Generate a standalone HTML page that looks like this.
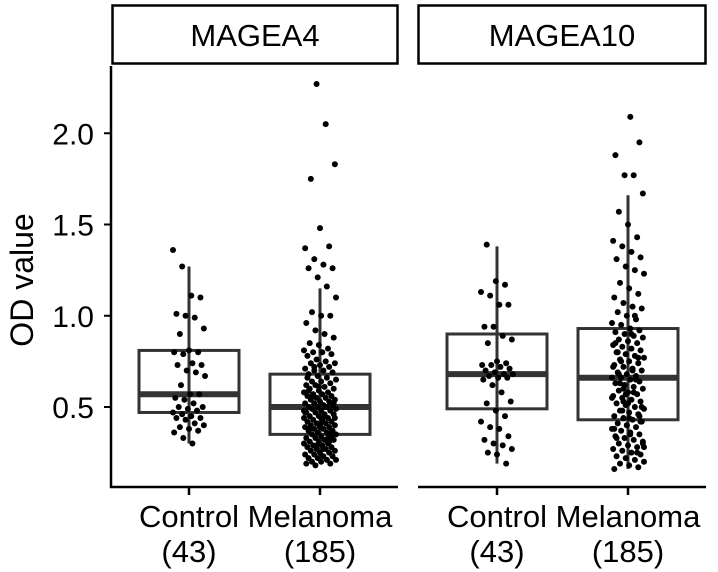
<!DOCTYPE html>
<html><head><meta charset="utf-8">
<style>
html,body{margin:0;padding:0;background:#fff;}
svg{display:block;font-family:"Liberation Sans",Arial,sans-serif;}
</style></head>
<body>
<svg id="chart" width="718" height="572" viewBox="0 0 718 572">
  <g>
    <rect x="112.5" y="5.5" width="285" height="58" fill="#fff" stroke="#000" stroke-width="2.5"/>
    <text x="255" y="46" font-size="31" text-anchor="middle">MAGEA4</text>
  </g>
  <g>
    <rect x="418.5" y="5.5" width="287" height="58" fill="#fff" stroke="#000" stroke-width="2.5"/>
    <text x="562" y="46" font-size="31" text-anchor="middle">MAGEA10</text>
  </g>
  <line x1="111" y1="66" x2="111" y2="488" stroke="#000" stroke-width="2.5"/>
  <line x1="110" y1="487" x2="398" y2="487" stroke="#000" stroke-width="2.5"/>
  <line x1="418" y1="487" x2="706" y2="487" stroke="#000" stroke-width="2.5"/>
  <text transform="translate(33,280) rotate(-90)" font-size="32" text-anchor="middle">OD value</text>
  <g id="yticks"></g>
  <g id="xticks"></g>
  <g id="boxes"></g>
  <g id="points"></g>
</svg>
<script>
const yTicks=[0.5,1.0,1.5,2.0];
const yTickLabels=["0.5","1.0","1.5","2.0"];
const panels=["MAGEA4","MAGEA10"];
const groups=["Control","Melanoma"];
const groupCounts=["(43)","(185)"];
// box stats: [whiskerLow,q1,median,q3,whiskerHigh]
const statsMAGEA4Control=[0.30,0.47,0.57,0.81,1.27];
const statsMAGEA4Melanoma=[0.19,0.35,0.50,0.68,1.15];
const statsMAGEA10Control=[0.19,0.49,0.68,0.90,1.38];
const statsMAGEA10Melanoma=[0.16,0.43,0.66,0.93,1.66];
const ptsMAGEA4Control=[1.36,1.27,1.11,1.10,1.01,1.00,0.99,0.93,0.90,0.81,0.80,0.80,0.79,0.74,0.73,0.73,0.70,0.69,0.67,0.62,0.57,0.57,0.55,0.54,0.52,0.50,0.50,0.49,0.48,0.47,0.46,0.45,0.44,0.44,0.43,0.41,0.40,0.39,0.38,0.37,0.36,0.33,0.30];
const ptsMAGEA4Melanoma=[2.27,2.05,1.83,1.75,1.48,1.38,1.37,1.31,1.28,1.26,1.26,1.21,1.16,1.10,1.02,1.00,1.00,0.96,0.92,0.90,0.88,0.85,0.84,0.82,0.81,0.80,0.80,0.79,0.78,0.76,0.75,0.74,0.74,0.73,0.72,0.71,0.70,0.70,0.69,0.68,0.67,0.66,0.65,0.64,0.64,0.63,0.62,0.62,0.61,0.60,0.60,0.59,0.58,0.58,0.57,0.57,0.56,0.56,0.55,0.55,0.54,0.54,0.53,0.53,0.52,0.52,0.51,0.51,0.50,0.50,0.50,0.49,0.49,0.48,0.48,0.47,0.47,0.46,0.46,0.45,0.45,0.44,0.44,0.43,0.43,0.42,0.42,0.41,0.41,0.40,0.40,0.40,0.39,0.39,0.38,0.38,0.37,0.37,0.36,0.36,0.35,0.35,0.34,0.34,0.33,0.33,0.32,0.32,0.31,0.31,0.30,0.30,0.29,0.29,0.28,0.28,0.27,0.27,0.26,0.26,0.25,0.25,0.24,0.24,0.23,0.23,0.22,0.22,0.21,0.21,0.20,0.20,0.19,0.19,0.18,0.45,0.52,0.38,0.61,0.33,0.48,0.57,0.42,0.36,0.66,0.29,0.50,0.44,0.55,0.39,0.31,0.47,0.72,0.27,0.35,0.59];
const ptsMAGEA10Control=[1.39,1.19,1.17,1.13,1.11,1.06,1.06,0.94,0.94,0.89,0.87,0.85,0.75,0.74,0.73,0.73,0.72,0.71,0.70,0.69,0.68,0.68,0.67,0.66,0.66,0.65,0.62,0.58,0.53,0.52,0.48,0.45,0.42,0.39,0.38,0.34,0.32,0.30,0.29,0.27,0.25,0.24,0.19];
const ptsMAGEA10Melanoma=[2.09,1.95,1.88,1.77,1.77,1.67,1.57,1.50,1.43,1.41,1.38,1.35,1.32,1.31,1.27,1.25,1.23,1.18,1.15,1.12,1.10,1.07,1.05,1.04,1.02,1.00,0.98,0.96,0.95,0.93,0.92,0.91,0.90,0.89,0.88,0.87,0.86,0.85,0.84,0.83,0.82,0.81,0.80,0.79,0.78,0.77,0.76,0.75,0.74,0.73,0.72,0.71,0.70,0.69,0.68,0.67,0.66,0.66,0.65,0.64,0.63,0.62,0.61,0.60,0.59,0.58,0.57,0.56,0.55,0.54,0.53,0.52,0.51,0.50,0.49,0.48,0.47,0.46,0.45,0.44,0.43,0.42,0.41,0.40,0.39,0.38,0.37,0.36,0.35,0.34,0.33,0.32,0.31,0.30,0.29,0.28,0.27,0.26,0.25,0.24,0.23,0.22,0.21,0.20,0.19,0.18,0.17,0.16,0.60,0.70,0.50,0.80,0.40,0.65,0.55,0.75,0.35,0.45,0.85,0.62,0.58,0.30,0.68,0.52,0.25,0.72,0.48,0.90,0.42,0.33,0.57,1.00,0.28,0.63,0.44,0.77,0.38,0.53];

const Y=v=>407-(v-0.5)*182.5;
const panelCenters=[[189,320],[497,628]];
const statsAll=[[statsMAGEA4Control,statsMAGEA4Melanoma],[statsMAGEA10Control,statsMAGEA10Melanoma]];
const ptsAll=[[ptsMAGEA4Control,ptsMAGEA4Melanoma],[ptsMAGEA10Control,ptsMAGEA10Melanoma]];
const NS="http://www.w3.org/2000/svg";
function mk(tag,attrs,parent){const e=document.createElementNS(NS,tag);for(const k in attrs)e.setAttribute(k,attrs[k]);parent.appendChild(e);return e;}

const yt=document.getElementById('yticks');
yTicks.forEach((v,i)=>{
  const l=mk('line',{x1:104,x2:111,y1:Y(v),y2:Y(v),stroke:'#000','stroke-width':2},yt);
  
  
  const t=mk('text',{x:94,y:Y(v)+11,'font-size':30,'text-anchor':'end'},yt);
  t.textContent=yTickLabels[i];
  
  
});
const xt=document.getElementById('xticks');
const bx=document.getElementById('boxes');
const pt=document.getElementById('points');
panels.forEach((p,pi)=>{
  groups.forEach((g,gi)=>{
    const cx=panelCenters[pi][gi];
    const tk=mk('line',{x1:cx,x2:cx,y1:487,y2:495,stroke:'#000','stroke-width':2.5},xt);
    
    
    const t1=mk('text',{x:cx,y:527,'font-size':31,'text-anchor':'middle'},xt);
    t1.textContent=g;
    
    
    const t2=mk('text',{x:cx,y:562,'font-size':31,'text-anchor':'middle'},xt);
    t2.textContent=groupCounts[gi];
    
    
    const s=statsAll[pi][gi];
    const grp=mk('g',{},bx);
    
    
    mk('line',{x1:cx,x2:cx,y1:Y(s[0]),y2:Y(s[4]),stroke:'#333','stroke-width':3},grp);
    mk('rect',{x:cx-50,y:Y(s[3]),width:100,height:Y(s[1])-Y(s[3]),fill:'#fff','fill-opacity':0,stroke:'#333','stroke-width':3},grp);
    mk('line',{x1:cx-50,x2:cx+50,y1:Y(s[2]),y2:Y(s[2]),stroke:'#333','stroke-width':6},grp);
    ptsAll[pi][gi].forEach((v,k)=>{
      const j=(((k*37+gi*11+pi*5)%29)/28-0.5)*32;
      const c=mk('circle',{cx:cx+j,cy:Y(v),r:3,fill:'#000'},pt);
      
      
    });
  });
});
</script>
</body></html>
